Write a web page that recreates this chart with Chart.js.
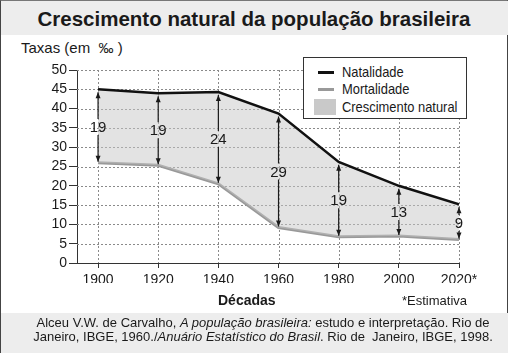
<!DOCTYPE html>
<html>
<head>
<meta charset="utf-8">
<script src="https://cdn.jsdelivr.net/npm/chart.js@4/dist/chart.umd.min.js"></script>
<style>
  html, body { margin: 0; padding: 0; background: #fff; }
  body { width: 512px; height: 353px; position: relative; overflow: hidden; font-family: "Liberation Sans", Arial, sans-serif; color: #1a1a1a; }
  #frame { position: absolute; left: 0; top: 0; width: 508px; height: 353px; border-left: 1px solid #444; border-top: 1px solid #777; border-right: 1px solid #444; box-sizing: border-box; }
  #titleBand { position: absolute; left: 1px; top: 1px; width: 507px; height: 34px; background: #ededed; }
  #title { position: absolute; left: 0; top: 7px; width: 508px; text-align: center; font-weight: bold; font-size: 20.5px; }
  #srcBand { position: absolute; left: 1px; top: 313px; width: 507px; height: 40px; background: #ededed; }
  #src { position: absolute; left: 0; top: 316px; width: 526px; text-align: center; font-size: 13px; line-height: 14px; white-space: nowrap; }
  #yTitle { position: absolute; left: 21px; top: 39px; font-size: 15px; }
  #xTitle { position: absolute; left: 218px; top: 292px; font-size: 14px; font-weight: bold; }
  #note { position: absolute; left: 402px; top: 293px; font-size: 13px; }
  #legend { position: absolute; left: 303px; top: 57px; width: 164px; height: 62px; border: 1px solid #333; background: #fff; box-sizing: border-box; }
  .li { position: absolute; height: 18px; line-height: 18px; white-space: nowrap; font-size: 15px; }
  .tx { position: absolute; left: 38px; top: 0; transform: scaleX(0.86); transform-origin: 0 50%; }
  .sw { position: absolute; }
  canvas { position: absolute; left: 0; top: 0; }
</style>
</head>
<body>
<div id="frame"></div>
<div id="titleBand"></div>
<div id="title">Crescimento natural da população brasileira</div>
<div id="yTitle">Taxas (em &nbsp;‰ )</div>
<canvas id="chart" width="512" height="353"></canvas>
<div id="legend">
  <div class="li" style="top:5px;left:0;width:160px"><span class="sw" style="left:14px;top:8px;width:16px;height:3px;background:#111"></span><span class="tx">Natalidade</span></div>
  <div class="li" style="top:22px;left:0;width:160px"><span class="sw" style="left:14px;top:8px;width:16px;height:3px;background:#999"></span><span class="tx">Mortalidade</span></div>
  <div class="li" style="top:40px;left:0;width:160px"><span class="sw" style="left:10px;top:1px;width:22px;height:16px;background:#c9c9c9"></span><span class="tx">Crescimento natural</span></div>
</div>
<div id="xTitle">Décadas</div>
<div id="note">*Estimativa</div>
<div id="srcBand"></div>
<div id="src">Alceu V.W. de Carvalho, <i>A população brasileira:</i> estudo e interpretação. Rio de<br>Janeiro, IBGE, 1960./<i>Anuário Estatístico do Brasil</i>. Rio de &nbsp;Janeiro, IBGE, 1998.</div>

<script>
// dados (taxas por mil)
const decades = [1900, 1920, 1940, 1960, 1980, 2000, 2020];
const natalidade = [45, 44, 44.3, 38.7, 26.2, 20, 15.2];
const mortalidade = [26, 25.3, 20.5, 9.2, 6.8, 7, 6.1];
const crescimento = [19, 19, 24, 29, 19, 13, 9];
const yTicks = [0, 5, 10, 15, 20, 25, 30, 35, 40, 45, 50];

const ARROW_COLOR = '#1a1a1a';

// grade pontilhada (desenhada antes das séries)
const gridPlugin = {
    id: 'dottedGrid',
    beforeDatasetsDraw(chart) {
        const { ctx, chartArea: a, scales: { x, y } } = chart;
        ctx.save();
        ctx.strokeStyle = '#8a8a8a';
        ctx.lineWidth = 1;
        ctx.setLineDash([2, 2]);
        yTicks.forEach(v => {
            if (v === 0) return;
            const py = Math.round(y.getPixelForValue(v)) + 0.5;
            ctx.beginPath(); ctx.moveTo(a.left, py); ctx.lineTo(a.right, py); ctx.stroke();
        });
        decades.forEach(d => {
            const px = Math.round(x.getPixelForValue(d)) + 0.5;
            ctx.beginPath(); ctx.moveTo(px, a.top); ctx.lineTo(px, a.bottom); ctx.stroke();
        });
        ctx.restore();
    }
};

// setas duplas com o valor do crescimento natural
const arrowPlugin = {
    id: 'arrows',
    afterDatasetsDraw(chart) {
        const { ctx, scales: { x, y } } = chart;
        ctx.save();
        ctx.font = '15px "Liberation Sans", Arial, sans-serif';
        ctx.textAlign = 'center';
        ctx.textBaseline = 'middle';
        ctx.strokeStyle = ARROW_COLOR;
        ctx.fillStyle = ARROW_COLOR;
        ctx.lineWidth = 1.2;
        decades.forEach((d, i) => {
            const px = x.getPixelForValue(d);
            const top = y.getPixelForValue(natalidade[i]) + 3;
            const bot = y.getPixelForValue(mortalidade[i]) - 1;
            const mid = (top + bot) / 2;
            const gapT = mid - 8, gapB = mid + 8;
            ctx.beginPath();
            ctx.moveTo(px, top); ctx.lineTo(px, gapT);
            ctx.moveTo(px, gapB); ctx.lineTo(px, bot);
            ctx.stroke();
            ctx.beginPath();
            ctx.moveTo(px, top); ctx.lineTo(px - 2.5, top + 6); ctx.lineTo(px + 2.5, top + 6); ctx.closePath();
            ctx.moveTo(px, bot); ctx.lineTo(px - 2.5, bot - 6); ctx.lineTo(px + 2.5, bot - 6); ctx.closePath();
            ctx.fill();
            ctx.fillText(String(crescimento[i]), px, mid + 1);
        });
        ctx.restore();
    }
};

const ctx = document.getElementById('chart').getContext('2d');
new Chart(ctx, {
    type: 'line',
    data: {
        datasets: [
            { label: 'Natalidade', data: decades.map((d, i) => ({ x: d, y: natalidade[i] })), borderColor: '#111', borderWidth: 2.5, pointRadius: 0, fill: '+1', backgroundColor: 'rgba(200,200,200,0.5)', tension: 0 },
            { label: 'Mortalidade', data: decades.map((d, i) => ({ x: d, y: mortalidade[i] })), borderColor: '#999', borderWidth: 3, pointRadius: 0, fill: false, tension: 0 }
        ]
    },
    options: {
        responsive: false, animation: false,
        layout: { padding: { left: 0, top: 70, right: 53, bottom: 70 } },
        plugins: { legend: { display: false }, tooltip: { enabled: false } },
        scales: {
            x: {
                type: 'linear', min: 1893, max: 2020,
                afterBuildTicks: s => { s.ticks = decades.map(v => ({ value: v })); },
                afterFit: s => { s.height = 20; },
                grid: { drawOnChartArea: false, tickColor: '#333', tickLength: 5 },
                border: { color: '#333', width: 1 },
                ticks: { color: '#1a1a1a', font: { size: 14, family: '"Liberation Sans", Arial' }, padding: 4, maxRotation: 0, autoSkip: false,
                    callback: v => v === 2020 ? '2020*' : String(v) }
            },
            y: {
                min: 0, max: 50,
                afterBuildTicks: s => { s.ticks = yTicks.map(v => ({ value: v })); },
                afterFit: s => { s.width = 77; },
                grid: { drawOnChartArea: false, tickColor: '#333', tickLength: 8 },
                border: { color: '#333', width: 1 },
                ticks: { color: '#1a1a1a', font: { size: 14, family: '"Liberation Sans", Arial' }, padding: 2, autoSkip: false }
            }
        }
    },
    plugins: [gridPlugin, arrowPlugin]
});
</script>
</body>
</html>
